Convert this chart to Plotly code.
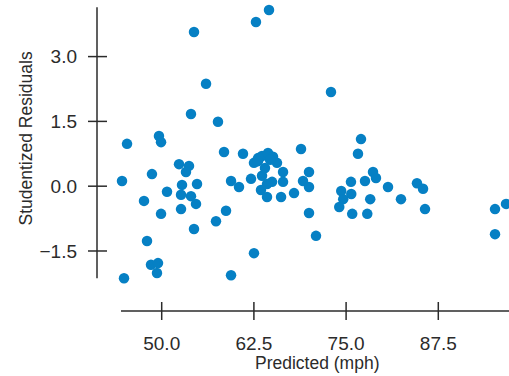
import plotly.graph_objects as go

# Predicted speed (mph) and studentized residual for each observation
predicted = [
    44.62, 44.89, 45.30, 47.60, 48.01, 48.55, 49.36, 49.50, 48.68, 49.63,
    49.91, 49.91, 50.72, 52.35, 53.70, 53.29, 52.75, 52.62, 53.97, 54.65,
    52.62, 54.79, 54.38, 53.97, 54.38, 56.01, 57.63, 57.36, 58.72, 58.45,
    59.40, 60.48, 59.40, 61.02, 62.11, 62.51, 62.78, 64.55, 63.46, 63.60,
    64.28, 64.96, 64.28, 66.18, 66.45, 66.45, 67.94, 68.89, 69.16, 69.97,
    69.97, 69.97, 70.92, 72.95, 77.02, 76.61, 78.65, 79.05, 75.66, 77.56,
    74.34, 75.70, 74.61, 74.07, 75.83, 77.87, 78.27, 80.68, 82.44, 84.61,
    85.43, 85.70, 95.19, 96.68, 95.19, 62.51, 63.06, 63.60, 64.41, 65.09,
    65.63, 64.00, 63.06, 64.69,
]
residuals = [
    0.12, -2.13, 0.98, -0.34, -1.27, -1.82, -2.01, -1.78, 0.28, 1.16,
    1.02, -0.64, -0.13, 0.51, 0.47, 0.33, 0.03, -0.20, -0.23, -0.41,
    -0.53, 0.05, -0.99, 1.67, 3.57, 2.37, 1.49, -0.81, -0.57, 0.79,
    0.12, -0.02, -2.06, 0.75, 0.17, -1.55, 3.80, 4.08, -0.09, 0.24,
    -0.25, 0.10, 0.05, -0.25, 0.33, 0.10, -0.16, 0.86, 0.12, 0.33,
    -0.02, -0.62, -1.15, 2.18, 1.09, 0.75, 0.33, 0.19, 0.10, 0.12,
    -0.11, -0.18, -0.30, -0.48, -0.64, -0.64, -0.30, -0.02, -0.30, 0.07,
    -0.06, -0.53, -0.53, -0.41, -1.11, 0.54, 0.65, 0.70, 0.77, 0.68,
    0.54, 0.42, 0.58, 0.61,
]

x_ticks = [50.0, 62.5, 75.0, 87.5]
x_tick_labels = ["50.0", "62.5", "75.0", "87.5"]
y_ticks = [3.0, 1.5, 0.0, -1.5]
y_tick_labels = ["3.0", "1.5", "0.0", "\u22121.5"]

FONT = "Liberation Sans Narrow, Arial Narrow, Liberation Sans, Arial, sans-serif"
INK = "#2b2b2b"
DOT = "#0680C4"

fig = go.Figure(
    go.Scatter(
        x=predicted,
        y=residuals,
        mode="markers",
        marker=dict(size=10.5, color=DOT, line=dict(width=0)),
        hoverinfo="x+y",
    )
)

shapes = []
# Detached axis lines
shapes.append(dict(type="line", xref="paper", yref="y", x0=0, x1=0, y0=-2.13, y1=4.14,
                   line=dict(color=INK, width=1.5)))
shapes.append(dict(type="line", xref="x", yref="paper", x0=44.48, x1=97.1, y0=0, y1=0,
                   line=dict(color=INK, width=1.5)))
# Ticks that cross the axis lines
for v in x_ticks:
    shapes.append(dict(type="line", xref="x", yref="paper", ysizemode="pixel", yanchor=0,
                       x0=v, x1=v, y0=-9, y1=9, line=dict(color=INK, width=1.5)))
for v in y_ticks:
    shapes.append(dict(type="line", xref="paper", yref="y", xsizemode="pixel", xanchor=0,
                       y0=v, y1=v, x0=-9, x1=10, line=dict(color=INK, width=1.5)))

fig.update_layout(
    width=509,
    height=376,
    margin=dict(l=97, r=0, t=0, b=65),
    paper_bgcolor="white",
    plot_bgcolor="white",
    showlegend=False,
    font=dict(family=FONT, size=18, color=INK),
    shapes=shapes,
    xaxis=dict(
        range=[41.228, 97.085],
        showgrid=False, zeroline=False, showline=False,
        tickmode="array", tickvals=x_ticks, ticktext=x_tick_labels,
        ticks="", ticklabelstandoff=19,
        tickfont=dict(family=FONT, size=19, color=INK),
    ),
    yaxis=dict(
        range=[-2.889, 4.310],
        showgrid=False, zeroline=False, showline=False,
        tickmode="array", tickvals=y_ticks, ticktext=y_tick_labels,
        ticks="", ticklabelstandoff=19,
        tickfont=dict(family=FONT, size=19, color=INK),
    ),
    annotations=[
        dict(text="Predicted (mph)", xref="paper", yref="paper",
             x=(317.5 - 97) / 412, y=-(362.5 - 311) / 311,
             xanchor="center", yanchor="middle", showarrow=False,
             font=dict(family=FONT, size=17.5, color=INK)),
        dict(text="Studentized Residuals", xref="paper", yref="paper",
             x=-(97 - 25) / 412, y=(311 - 138.5) / 311, textangle=-90,
             xanchor="center", yanchor="middle", showarrow=False,
             font=dict(family=FONT, size=17.5, color=INK)),
    ],
)

fig.write_html("out.html")
